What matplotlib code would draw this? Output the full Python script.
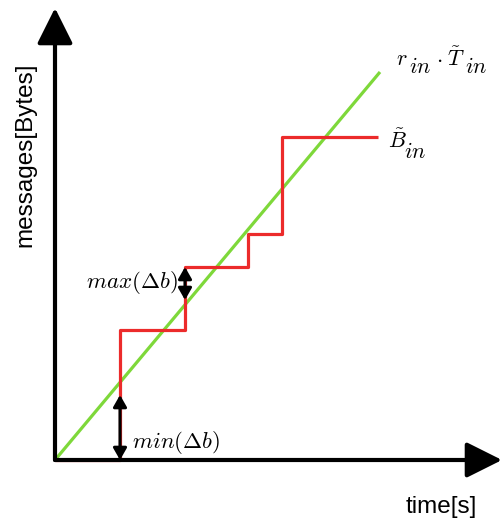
import matplotlib.pyplot as plt
from matplotlib.patches import FancyArrowPatch

plt.rcParams['mathtext.fontset'] = 'cm'
plt.rcParams['font.family'] = ['Liberation Sans', 'DejaVu Sans']

# step curve B_in (arbitrary units, origin at the axes crossing)
step_x = [0, 65, 65, 130, 130, 193, 193, 227, 227, 323]
step_y = [0, 0, 130, 130, 193, 193, 226, 226, 323, 323]

# linear rate r_in * T_in
rate_x = [0, 325]
rate_y = [0, 388]

# double-headed arrows: (x, y_low, y_high)
min_arrow = (65, 0, 65)
max_arrow = (130, 160, 193)

fig = plt.figure(figsize=(5.04, 5.24), dpi=100)
ax = fig.add_axes([0, 0, 1, 1])
# one data unit is one pixel; origin sits where the axes cross
ax.set_xlim(-55, 449)
ax.set_ylim(-64, 460)
ax.axis('off')

ax.plot(rate_x, rate_y, color='#7ed83a', lw=2.3, solid_capstyle='butt', zorder=2)
ax.plot(step_x, step_y, color='#ec2b2b', lw=2.3, solid_capstyle='butt', zorder=3)

# axes with big arrow heads
big = '-|>,head_length=22,head_width=11'
for tip in [(0, 452), (447, 0)]:
    ax.add_patch(FancyArrowPatch((0, 0), tip, arrowstyle=big, mutation_scale=1,
                                 shrinkA=0, shrinkB=0, lw=3, color='black', zorder=4))

small = '<|-|>,head_length=7,head_width=4'
for x, y0, y1 in [min_arrow, max_arrow]:
    ax.add_patch(FancyArrowPatch((x, y0), (x, y1), arrowstyle=small, mutation_scale=1,
                                 shrinkA=0, shrinkB=0, lw=2.2, color='black', zorder=5))

ax.text(-30, 305, 'messages[Bytes]', rotation=90, fontsize=17.5, ha='center', va='center')
ax.text(386, -47, 'time[s]', fontsize=17.5, ha='center', va='center')


def put(px, py, s, size=16):
    # place a glyph group by its pixel position (left, baseline)
    ax.text(px - 55, 460 - py, s, fontsize=size, ha='left', va='baseline')


# r_in . T~_in  (subscripts drawn at full size, as in the original)
put(396, 65, r'$r$')
put(409, 73, r'$in$')
put(436, 64, r'$\cdot$')
put(447, 66, r'$\tilde{T}$')
put(465, 73, r'$in$')

# B~_in
put(388, 148, r'$\tilde{B}$')
put(404, 158, r'$in$')

ax.text(123, 177, r'$max(\Delta b)$', fontsize=16.5, ha='right', va='center')
ax.text(77, 17, r'$min(\Delta b)$', fontsize=16.5, ha='left', va='center')

fig.savefig('out.png', dpi=100)
